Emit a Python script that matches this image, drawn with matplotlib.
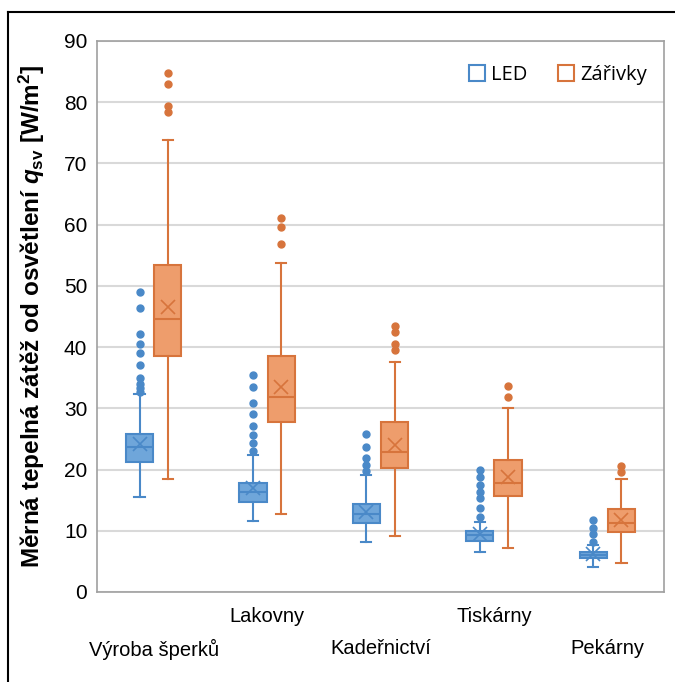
import matplotlib
matplotlib.use("Agg")
import matplotlib.pyplot as plt
from matplotlib import font_manager
from matplotlib.lines import Line2D

# fonts: narrow sans for the axes, Open Sans for the legend
names = {f.name for f in font_manager.fontManager.ttflist}
narrow = "Liberation Sans Narrow" if "Liberation Sans Narrow" in names else "Liberation Sans"
plt.rcParams["font.family"] = [narrow, "DejaVu Sans"]
plt.rcParams["mathtext.fontset"] = "custom"
plt.rcParams["mathtext.rm"] = narrow + ":bold"
plt.rcParams["mathtext.it"] = narrow + ":italic:bold"
plt.rcParams["mathtext.bf"] = narrow + ":bold"

categories = ["Výroba šperků", "Lakovny", "Kadeřnictví", "Tiskárny", "Pekárny"]
series = ["LED", "Zářivky"]

# per category: whisker low, q1, median, q3, whisker high, mean
led_lo = [15.5, 11.6, 8.1, 6.5, 4.0]
led_q1 = [21.2, 14.7, 11.2, 8.4, 5.5]
led_med = [23.6, 16.4, 12.8, 9.3, 6.1]
led_q3 = [25.8, 17.8, 14.4, 10.0, 6.6]
led_hi = [32.3, 22.4, 19.1, 11.5, 7.6]
led_mean = [24.2, 16.9, 13.1, 9.4, 6.2]
led_out = [
    [49.0, 46.3, 42.2, 40.5, 39.0, 37.0, 34.9, 34.0, 33.3, 32.6],
    [35.4, 33.4, 30.9, 29.1, 27.1, 25.6, 24.4, 23.1],
    [25.8, 23.6, 21.8, 20.7, 19.7],
    [19.9, 18.8, 17.4, 16.3, 15.3, 13.7, 12.2],
    [11.8, 10.4, 9.4, 8.2],
]

zar_lo = [18.5, 12.8, 9.1, 7.2, 4.8]
zar_q1 = [38.6, 27.8, 20.3, 15.6, 9.8]
zar_med = [44.6, 31.9, 22.9, 17.8, 11.3]
zar_q3 = [53.4, 38.5, 27.8, 21.5, 13.5]
zar_hi = [73.8, 53.7, 37.6, 30.1, 18.4]
zar_mean = [46.5, 33.4, 24.0, 18.7, 11.8]
zar_out = [
    [84.8, 82.9, 79.4, 78.4],
    [61.0, 59.6, 56.9],
    [43.5, 42.5, 40.5, 39.5],
    [33.6, 31.9],
    [20.6, 19.6],
]

yticks = list(range(0, 91, 10))

blue_edge, blue_face = "#4A89C8", "#6FA6DA"
orange_edge, orange_face = "#D7743C", "#EE9D6C"


def stats(lo, q1, med, q3, hi, mean, out):
    return [dict(whislo=a, q1=b, med=c, q3=d, whishi=e, mean=f, fliers=g)
            for a, b, c, d, e, f, g in zip(lo, q1, med, q3, hi, mean, out)]


fig = plt.figure(figsize=(6.75, 6.82), dpi=100)
ax = fig.add_axes([0.1437, 0.132, 0.84, 0.808])

off = 0.125
w = 0.24
for st, shift, edge, face in [
    (stats(led_lo, led_q1, led_med, led_q3, led_hi, led_mean, led_out), -off, blue_edge, blue_face),
    (stats(zar_lo, zar_q1, zar_med, zar_q3, zar_hi, zar_mean, zar_out), off, orange_edge, orange_face),
]:
    pos = [i + shift for i in range(len(categories))]
    ax.bxp(st, positions=pos, widths=w, capwidths=0.09, patch_artist=True,
           showmeans=True, manage_ticks=False,
           boxprops=dict(facecolor=face, edgecolor=edge, linewidth=1.5),
           medianprops=dict(color=edge, linewidth=1.5),
           whiskerprops=dict(color=edge, linewidth=1.5),
           capprops=dict(color=edge, linewidth=1.5),
           meanprops=dict(marker="x", markeredgecolor=edge, markersize=10, markeredgewidth=1.2),
           flierprops=dict(marker="o", markerfacecolor=edge, markeredgecolor=edge, markersize=5))

ax.set_xlim(-0.5, len(categories) - 0.5)
ax.set_ylim(0, 90)
ax.set_yticks(yticks)
ax.yaxis.grid(True, color="#D9D9D9", linewidth=1.5)
ax.set_axisbelow(True)
for s in ax.spines.values():
    s.set_color("#A0A0A0")
    s.set_linewidth(1.2)
ax.tick_params(axis="y", length=0, pad=7, labelsize=15)
ax.tick_params(axis="x", length=0, labelsize=14.5)
ax.set_xticks(range(len(categories)))
ax.set_xticklabels(categories)
for i, t in enumerate(ax.xaxis.get_major_ticks()):
    t.set_pad(11 if i % 2 else 34)

ax.set_ylabel("Měrná tepelná zátěž od osvětlení $q_\\mathrm{sv}$ [W/m$^\\mathrm{2}$]",
              fontsize=17.5, fontweight="bold", labelpad=12)

handles = [Line2D([], [], marker="s", linestyle="none", markerfacecolor="white",
                  markeredgecolor=c, markersize=11, markeredgewidth=1.5)
           for c in (blue_edge, orange_edge)]
ax.legend(handles, series, loc="upper right", ncol=2, frameon=False,
          prop={"family": "Open Sans", "size": 14.5}, handletextpad=-0.1,
          handlelength=1.6, columnspacing=1.1, borderaxespad=0.8,
          bbox_to_anchor=(1.012, 1.0))

# outer frame of the original figure
fig.add_artist(Line2D([8 / 675, 1], [1 - 12 / 682, 1 - 12 / 682], color="black", linewidth=1.5))
fig.add_artist(Line2D([8 / 675, 8 / 675], [0, 1 - 12 / 682], color="black", linewidth=1.5))

fig.savefig("out.png", dpi=100)
